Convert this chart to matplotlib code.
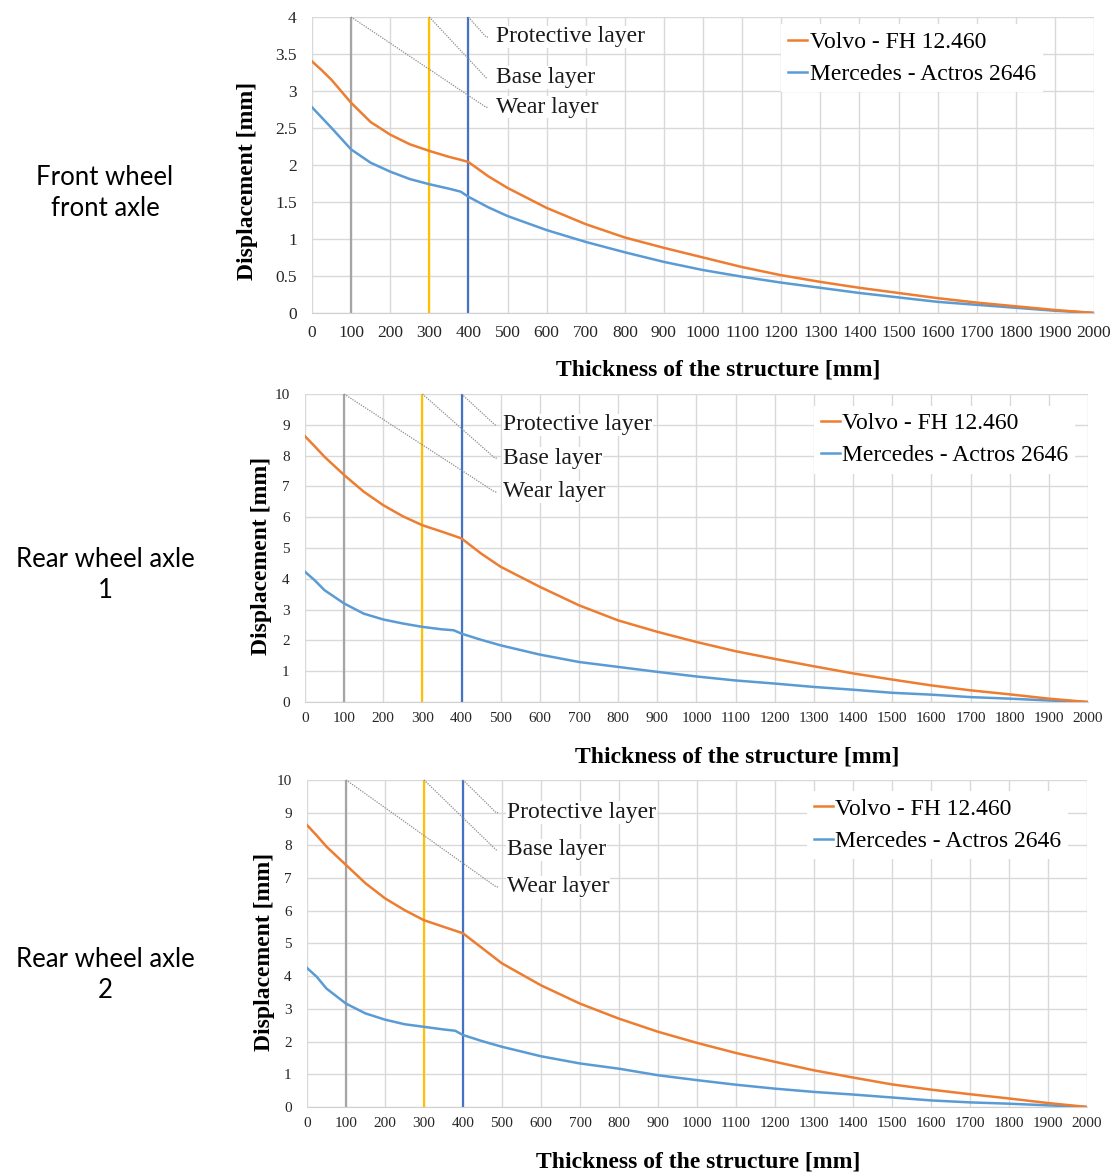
import numpy as np
import matplotlib.pyplot as plt

plt.rcParams["font.family"] = ["Liberation Serif", "DejaVu Serif"]
SERIF = "Liberation Serif"

# ---- data ----
thickness = [0, 25, 50, 100, 150, 200, 250, 300, 350, 380, 400, 450, 500, 600, 700, 800,
             900, 1000, 1100, 1200, 1300, 1400, 1500, 1600, 1700, 1800, 1900, 2000]

volvo_front = [3.40, 3.28, 3.15, 2.84, 2.58, 2.41, 2.28, 2.19, 2.11, 2.07, 2.04, 1.85, 1.69, 1.42,
               1.20, 1.02, 0.88, 0.75, 0.62, 0.51, 0.42, 0.34, 0.27, 0.20, 0.14, 0.09, 0.04, 0.0]
merc_front = [2.78, 2.64, 2.50, 2.21, 2.03, 1.91, 1.81, 1.74, 1.68, 1.64, 1.57, 1.43, 1.31, 1.12,
              0.96, 0.82, 0.69, 0.58, 0.49, 0.41, 0.34, 0.27, 0.21, 0.15, 0.11, 0.07, 0.03, 0.0]

volvo_rear1 = [8.63, 8.30, 7.96, 7.37, 6.83, 6.39, 6.03, 5.74, 5.53, 5.40, 5.31, 4.82, 4.39, 3.74,
               3.14, 2.65, 2.28, 1.95, 1.65, 1.40, 1.16, 0.93, 0.73, 0.54, 0.38, 0.25, 0.11, 0.0]
merc_rear1 = [4.23, 3.95, 3.63, 3.20, 2.87, 2.68, 2.55, 2.44, 2.36, 2.33, 2.22, 2.02, 1.84, 1.54,
              1.30, 1.14, 0.98, 0.83, 0.70, 0.60, 0.49, 0.40, 0.30, 0.24, 0.16, 0.11, 0.05, 0.0]

volvo_rear2 = [8.62, 8.30, 7.96, 7.40, 6.84, 6.38, 6.02, 5.71, 5.51, 5.39, 5.31, 4.85, 4.39, 3.72,
               3.16, 2.70, 2.30, 1.96, 1.65, 1.38, 1.12, 0.90, 0.69, 0.53, 0.39, 0.26, 0.12, 0.0]
merc_rear2 = [4.25, 3.98, 3.62, 3.16, 2.86, 2.67, 2.53, 2.45, 2.37, 2.33, 2.20, 2.01, 1.84, 1.55,
              1.33, 1.17, 0.97, 0.82, 0.68, 0.56, 0.46, 0.38, 0.29, 0.20, 0.14, 0.10, 0.05, 0.0]

layer_x = [100, 300, 400]
layer_colors = ["#a5a5a5", "#ffc000", "#4472c4"]
layer_names = ["Wear layer", "Base layer", "Protective layer"]

row_labels = ["Front wheel\nfront axle", "Rear wheel axle\n1", "Rear wheel axle\n2"]
series_names = ["Volvo - FH 12.460", "Mercedes - Actros 2646"]

panels = [
    dict(rect=[0.2786, 0.7332, 0.6982, 0.2523], ymax=4, ystep=0.5, volvo=volvo_front, merc=merc_front,
         tfs=12.5, ann_y=[2.78, 3.18, 3.73], ann_x=470, lead_x=450, leg=(0.600, 0.975),
         xl=(0.519, -0.193), yl=(-0.082, 0.446), row_y=193),
    dict(rect=[0.2723, 0.4015, 0.6991, 0.2626], ymax=10, ystep=1, volvo=volvo_rear1, merc=merc_rear1,
         tfs=11, ann_y=[6.82, 7.92, 9.0], ann_x=506, lead_x=490, leg=(0.650, 0.962),
         xl=(0.552, -0.179), yl=(-0.055, 0.474), row_y=575),
    dict(rect=[0.2741, 0.0563, 0.6964, 0.2788], ymax=10, ystep=1, volvo=volvo_rear2, merc=merc_rear2,
         tfs=11, ann_y=[6.73, 7.86, 9.0], ann_x=513, lead_x=490, leg=(0.641, 0.966),
         xl=(0.501, -0.168), yl=(-0.054, 0.474), row_y=975),
]

fig = plt.figure(figsize=(11.2, 11.73), dpi=100)

for i, p in enumerate(panels):
    ax = fig.add_axes(p["rect"])
    ax.set_xlim(0, 2000)
    ax.set_ylim(0, p["ymax"])
    ax.set_xticks(np.arange(0, 2001, 100))
    yt = np.arange(0, p["ymax"] + 0.001, p["ystep"])
    ax.set_yticks(yt)
    ax.set_yticklabels([("%g" % v) for v in yt])
    ax.grid(True, color="#d9d9d9", linewidth=1)
    ax.set_axisbelow(True)
    for s in ["top", "right", "left"]:
        ax.spines[s].set_visible(False)
    ax.spines["bottom"].set_color("#d0d0d0")
    ax.tick_params(length=0, labelsize=p["tfs"], colors="#262626")
    ax.tick_params(axis="x", pad=9 if i == 0 else 7)
    ax.tick_params(axis="y", pad=11)

    # layer boundaries
    for lx, lc in zip(layer_x, layer_colors):
        ax.axvline(lx, color=lc, linewidth=1.6, zorder=2)

    ax.plot(thickness, p["merc"], color="#5b9bd5", linewidth=1.8, zorder=3, label=series_names[1])
    ax.plot(thickness, p["volvo"], color="#ed7d31", linewidth=1.8, zorder=3, label=series_names[0])

    # layer labels with dotted leaders
    for lx, name, ty in zip(layer_x, layer_names, p["ann_y"]):
        ax.plot([lx, p["lead_x"] - 5, p["lead_x"]], [p["ymax"], ty, ty], color="#8c8c8c",
                linestyle=(0, (1, 1)), linewidth=0.9, zorder=4, clip_on=False)
        ax.text(p["ann_x"], ty, name, fontsize=17, family=SERIF, va="center", ha="left",
                color="#1a1a1a", zorder=5,
                bbox=dict(facecolor="white", edgecolor="none", pad=0.5))

    h, l = ax.get_legend_handles_labels()
    leg = ax.legend(h[::-1], l[::-1], loc="upper left", bbox_to_anchor=p["leg"],
                    prop={"family": SERIF, "size": 17},
                    frameon=True, framealpha=1, edgecolor="none", fancybox=False,
                    handlelength=0.8, handletextpad=0.1, borderpad=0.3, borderaxespad=0,
                    labelspacing=0.45)
    leg.set_zorder(6)

    ax.set_xlabel("Thickness of the structure [mm]", fontsize=17, fontweight="bold",
                  family=SERIF, va="center", ha="center")
    ax.xaxis.set_label_coords(*p["xl"])
    ax.set_ylabel("Displacement [mm]", fontsize=17, fontweight="bold", family=SERIF,
                  va="center", ha="center")
    ax.yaxis.set_label_coords(*p["yl"])

    fig.text(105 / 1120, 1 - p["row_y"] / 1173, row_labels[i], fontsize=18.5,
             family=["Lato", "DejaVu Sans"], ha="center", va="center", linespacing=1.3)

fig.savefig("out.png", dpi=100, facecolor="white")
